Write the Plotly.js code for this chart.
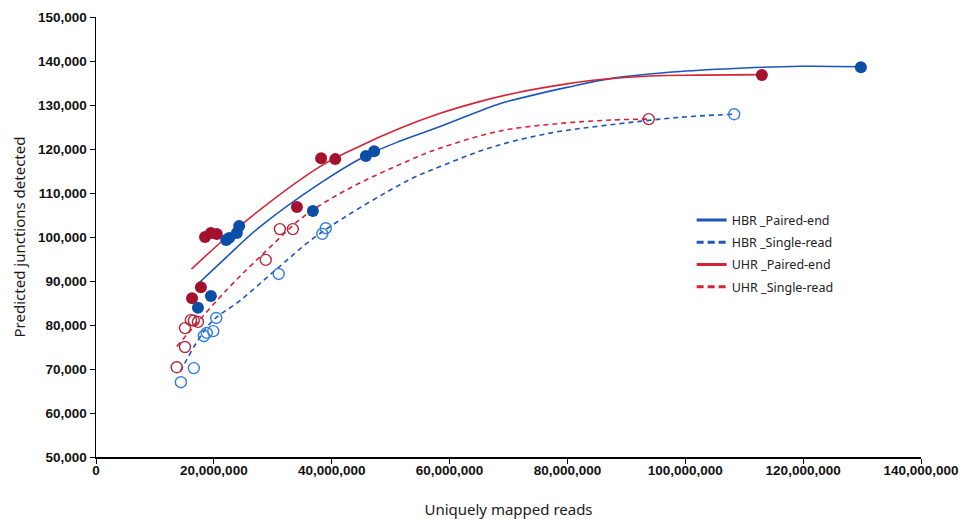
<!DOCTYPE html>
<html>
<head>
<meta charset="utf-8">
<script src="https://cdn.plot.ly/plotly-3.0.1.min.js"></script>
<style>html,body{margin:0;padding:0;background:#fff;}#chart{width:961px;height:519px;}</style>
</head>
<body>
<div id="chart"></div>
<script>
// Observed samples (reads in millions, junctions in thousands)
const hbrPeX = [17.3, 19.5, 22.1, 22.6, 23.9, 24.3, 36.8, 45.8, 47.2, 129.8];
const hbrPeY = [83.9, 86.6, 99.3, 99.8, 100.9, 102.5, 105.9, 118.4, 119.5, 138.6];
const hbrSrX = [14.4, 16.6, 18.3, 18.8, 19.9, 20.4, 31.0, 38.4, 39.0, 108.3];
const hbrSrY = [67.0, 70.2, 77.5, 78.2, 78.6, 81.6, 91.6, 100.7, 102.0, 127.9];
const uhrPeX = [16.3, 17.8, 18.5, 19.5, 20.5, 34.1, 38.2, 40.6, 113.0];
const uhrPeY = [86.1, 88.6, 100.0, 100.9, 100.7, 106.8, 117.9, 117.7, 136.8];
const uhrSrX = [13.7, 15.1, 15.1, 16.1, 16.6, 17.3, 28.8, 31.2, 33.4, 93.8];
const uhrSrY = [70.4, 75.0, 79.3, 81.1, 81.0, 80.7, 94.8, 101.8, 101.8, 126.8];

// Fitted curves
const hbrPeCurveX = [17.5, 22.2, 27.8, 38.0, 45.4, 51.6, 58.4, 68.5, 73.1, 79.9, 87.8, 99.1, 110.0, 119.5, 129.9];
const hbrPeCurveY = [89.6, 95.5, 102.3, 112.2, 118.2, 121.8, 125.1, 130.3, 131.9, 134.0, 136.1, 137.6, 138.4, 138.8, 138.7];
const hbrSrCurveX = [14.3, 19.4, 24.5, 30.9, 38.0, 53.3, 58.4, 66.9, 77.0, 86.7, 99.1, 108.1];
const hbrSrCurveY = [69.4, 80.4, 85.6, 93.0, 100.8, 113.1, 116.0, 120.3, 123.6, 125.4, 127.2, 127.9];
const uhrPeCurveX = [16.2, 24.4, 38.0, 44.2, 51.6, 58.4, 64.6, 71.4, 79.9, 85.6, 94.0, 102.5, 113.0];
const uhrPeCurveY = [92.7, 102.5, 116.0, 120.3, 124.7, 128.1, 130.6, 132.8, 134.8, 135.8, 136.6, 136.8, 136.9];
const uhrSrCurveX = [13.7, 22.2, 29.0, 35.2, 42.5, 53.3, 58.4, 68.6, 78.7, 87.8, 93.7];
const uhrSrCurveY = [75.1, 88.0, 97.0, 104.6, 110.7, 117.5, 120.2, 124.1, 125.8, 126.6, 126.8];

const xTicks = [0, 20, 40, 60, 80, 100, 120, 140];
const yTicks = [50, 60, 70, 80, 90, 100, 110, 120, 130, 140, 150];
const legendNames = ['HBR _Paired-end', 'HBR _Single-read', 'UHR _Paired-end', 'UHR _Single-read'];

const M = v => v.map(a => a * 1e6);
const K = v => v.map(a => a * 1e3);
const fmt = n => n.toLocaleString('en-US');

const C = {
  hbrLine: '#1d55b8', hbrFill: '#0b4ea6', hbrOpen: '#2f7fe0',
  uhrLine: '#d42536', uhrFill: '#a3112c', uhrOpen: '#b3283e'
};
const legendColors = [C.hbrLine, C.hbrLine, C.uhrLine, C.uhrLine];
const legendDash = ['solid', '7px,4px', 'solid', '7px,4px'];

const curve = (x, y, color, dash) => ({x: M(x), y: K(y), mode: 'lines', showlegend: false,
  line: {color: color, width: 1.6, dash: dash, shape: 'spline', smoothing: 1}});

const traces = [
  curve(hbrPeCurveX, hbrPeCurveY, C.hbrLine, 'solid'),
  curve(hbrSrCurveX, hbrSrCurveY, C.hbrLine, '5px,4px'),
  curve(uhrPeCurveX, uhrPeCurveY, C.uhrLine, 'solid'),
  curve(uhrSrCurveX, uhrSrCurveY, C.uhrLine, '5px,4px'),
  {x: M(hbrSrX), y: K(hbrSrY), mode: 'markers', showlegend: false,
   marker: {symbol: 'circle-open', size: 11, color: C.hbrOpen, line: {width: 1.4}}},
  {x: M(uhrSrX), y: K(uhrSrY), mode: 'markers', showlegend: false,
   marker: {symbol: 'circle-open', size: 11, color: C.uhrOpen, line: {width: 1.4}}},
  {x: M(uhrPeX), y: K(uhrPeY), mode: 'markers', showlegend: false,
   marker: {symbol: 'circle', size: 12, color: C.uhrFill}},
  {x: M(hbrPeX), y: K(hbrPeY), mode: 'markers', showlegend: false,
   marker: {symbol: 'circle', size: 12, color: C.hbrFill}}
];
// legend entries (thicker sample lines, no data)
legendNames.forEach((n, i) => traces.push({x: [null], y: [null], mode: 'lines', name: n,
  legendgroup: 'g' + i, line: {color: legendColors[i], width: 3, dash: legendDash[i]}}));

const tickFont = {family: 'Liberation Sans, Arial, sans-serif', size: 13.5, color: '#111', weight: 'bold'};
const titleFont = {family: 'Noto Sans, Roboto, sans-serif', size: 15, color: '#1a1a1a'};

const layout = {
  width: 961, height: 519,
  margin: {l: 96, r: 40, t: 17, b: 62},
  paper_bgcolor: '#fff', plot_bgcolor: '#fff',
  showlegend: true,
  legend: {x: 0.722, y: 0.572, xanchor: 'left', yanchor: 'top',
    font: {family: 'Noto Sans, Roboto, sans-serif', size: 12.5, color: '#222'},
    bgcolor: 'rgba(0,0,0,0)', traceorder: 'grouped', tracegroupgap: 3, itemwidth: 30},
  xaxis: {
    range: [0, 140e6], tickvals: M(xTicks), ticktext: xTicks.map(v => fmt(v * 1e6)),
    showgrid: false, zeroline: false, showline: true, linecolor: '#000', linewidth: 1.5,
    ticks: 'outside', ticklen: 5, tickwidth: 1, tickcolor: '#000', tickfont: tickFont,
    ticklabelstandoff: -5,
    title: {text: 'Uniquely mapped reads', font: titleFont, standoff: 28}
  },
  yaxis: {
    range: [50e3, 150e3], tickvals: K(yTicks), ticktext: yTicks.map(v => fmt(v * 1e3)),
    showgrid: false, zeroline: false, showline: true, linecolor: '#000', linewidth: 1.5,
    ticks: 'outside', ticklen: 5, tickwidth: 1, tickcolor: '#000', tickfont: tickFont,
    title: {text: 'Predicted junctions detected', font: titleFont, standoff: 8}
  }
};

Plotly.newPlot('chart', traces, layout, {displayModeBar: false, staticPlot: true});
</script>
</body>
</html>
